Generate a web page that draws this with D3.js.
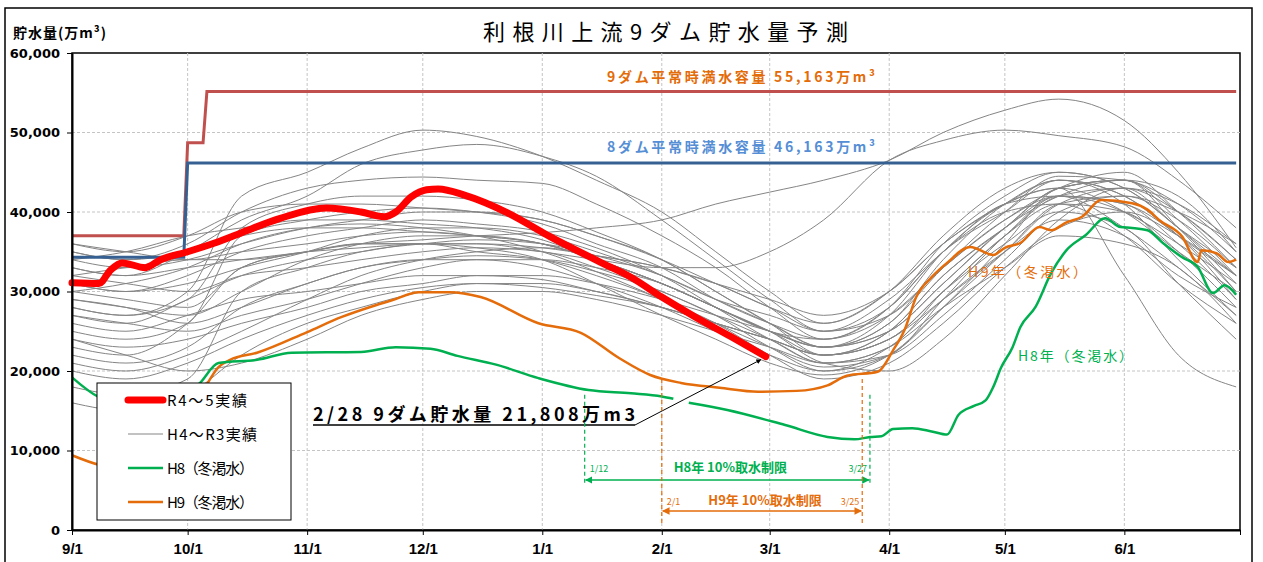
<!DOCTYPE html>
<html>
<head>
<meta charset="utf-8">
<script src="https://cdn.jsdelivr.net/npm/d3@7"></script>
<style>
body { margin: 0; background: #fff; }
svg { display: block; }
</style>
</head>
<body>
<svg id="chart" width="1263" height="562"></svg>
<script>
// dates are "month/day": Sep-Dec = 2022, Jan-Jun = 2023
var grayDates = ["9/1","9/15","10/1","10/15","11/1","11/15","12/1","12/15","1/1","1/15","2/1","2/15","3/1","3/15","4/1","4/15","5/1","5/15","6/1","6/15","6/30"];
// H4~R3 (万m3)
var grayValues = [
    [28000,27000,30000,42000,45000,48000,50300,49500,47000,44000,40000,35000,30000,26000,30000,36000,41000,43000,40000,35000,30000],
    [33000,32000,35000,39000,42000,46000,47800,48500,47000,44500,39000,34000,29000,25000,28000,35000,40000,44000,42000,37000,32000],
    [35000,34000,36000,40000,43000,44000,44400,44000,43600,41000,37000,33000,28000,24000,27000,33000,39000,42000,40000,36000,31000],
    [30000,29000,28000,33000,35000,36000,36500,37000,37400,38000,39000,41000,42500,44000,46500,50000,52800,54200,51500,45000,35500],
    [27000,26000,29000,32000,34000,35000,36000,36000,35000,34000,33000,33000,35000,39000,46500,49000,50300,49600,48200,44000,38000],
    [34000,33000,34000,36000,38000,39000,40000,40000,39000,37000,34000,30000,26000,22000,25000,32000,38000,43000,44000,40000,34000],
    [31000,30000,32000,35000,37000,38000,39000,38500,37500,35500,32000,28000,24000,21000,23000,30000,37000,42000,43000,38000,33000],
    [29000,28000,27000,30000,34000,36000,37000,37000,36000,34000,31000,28000,25000,23000,26000,33000,40000,44500,44000,41000,35000],
    [25000,24000,26000,37000,39000,40000,40500,40000,38500,36000,33000,29000,26000,24000,28000,36000,42000,45000,43000,38000,31000],
    [22000,21000,23000,28000,31000,33000,34000,34500,34000,32500,30000,27000,24000,21000,22000,27000,34000,40000,42000,39000,33000],
    [20000,19000,21000,24000,27000,29000,30500,31000,30500,29500,28000,26000,24000,22000,24000,29000,35000,41000,43000,41000,36000],
    [32000,31000,30000,32000,33000,34000,35000,35500,35000,33000,30000,27000,23000,20000,22000,28000,36000,43000,44000,38000,30000],
    [36000,35000,34000,35000,36000,37000,37500,37000,36000,34000,31000,28000,25000,22000,24000,30000,37000,41000,40000,35000,28000],
    [18000,17000,19000,30000,33000,35000,36000,36500,36000,34500,32000,29000,26000,23000,26000,34000,41000,44000,41000,34000,27000],
    [27000,26000,25000,27000,29000,31000,33000,34000,34000,33000,31000,28000,25000,21000,20000,24000,32000,39000,43000,40000,34000],
    [30000,31000,33000,36000,38000,38500,38000,37000,35000,32500,29000,26000,23000,20500,22000,29000,37000,42000,41000,36000,29000],
    [24000,23000,24000,26000,28000,30000,31000,32000,32000,31000,29000,27000,25000,23000,25000,31000,38000,42000,44000,42000,35000],
    [33000,32000,33000,34000,35000,36000,36000,35000,34000,32000,29000,26000,22000,19000,21000,26000,33000,38000,40000,37000,32000],
    [21000,20000,22000,25000,29000,32000,34000,35000,35500,34500,33000,31000,28000,26000,30000,37000,43000,45000,43000,38000,32000],
    [28000,27000,29000,38000,41000,42000,42000,41500,40000,37500,34000,30000,26000,23000,25000,31000,38000,43000,44000,39000,32000],
    [35000,34000,35000,37000,38000,38000,37500,37000,36000,34000,31000,28000,25000,23000,27000,35000,41000,43000,32000,22000,18000],
    [26000,25000,27000,29000,30000,31000,32000,32000,31500,30000,28000,26000,24000,22000,24000,30000,36000,40000,38000,31000,24000],
    [31000,30000,31000,33000,35000,37000,38000,38000,37000,35000,32000,29000,27000,25000,29000,35000,41000,42000,38000,33000,27000],
    [34000,35000,37000,38000,39000,39000,38500,38000,36500,34000,31000,28000,25000,24000,28000,35000,40000,41000,37000,31000,26000],
    [29000,28000,26000,28000,31000,33000,34000,34000,33000,31000,28000,25000,22000,20000,23000,29000,35000,39000,37000,32000,28000],
    [23000,22000,26000,33000,35000,36000,36000,35500,34000,31000,27000,24000,21000,19500,22000,28000,35000,41000,42000,40000,36000],
    [36000,35000,37000,40000,41000,41000,40500,40000,39000,37000,34000,31000,28000,25000,27000,33000,39000,43000,45000,40000,33000],
    [32000,33000,34000,34000,35000,35500,36000,36000,35500,34500,33000,31000,29000,27000,30000,36000,41000,44000,42000,37000,29000],
    [16000,15000,17000,22000,26000,28000,30000,31000,31000,30000,28000,26000,24000,22000,25000,32000,38000,42000,41000,37000,30000],
    [24000,22000,20000,21000,24000,27000,29000,30000,30000,29000,27000,25000,23000,21000,23000,28000,33000,37000,36000,33000,26000]
];

// R4~5 実績
var r45Dates = ["9/1","9/8","9/11","9/14","9/20","9/24","10/1","10/8","10/15","10/25","11/6","11/15","11/21","11/24","11/28","12/2","12/5","12/12","12/23","1/3","1/16","1/24","2/1","2/10","2/19","2/28"];
var r45Values = [31100,31000,32700,33600,33000,34000,35000,36100,37400,39200,40500,40000,39400,40000,41900,42800,42900,42100,39900,36900,33700,31800,29300,26700,24300,21808];

// H8 (冬渇水)  null = gap in the record
var h8Dates = ["9/1","9/8","9/20","10/4","10/9","10/19","10/28","11/15","11/24","12/3","12/10","12/20","12/31","1/13","1/24","2/1","2/4","2/6","2/8","2/18","3/5","3/16","3/23","3/27","3/30","4/2","4/7","4/12","4/16","4/19","4/23","4/26","4/28","4/30","5/3","5/5","5/9","5/13","5/17","5/22","5/27","5/31","6/3","6/7","6/11","6/16","6/20","6/24","6/27","6/30"];
var h8Values = [19200,16700,15300,18400,21000,21400,22300,22400,23000,22800,21900,20800,19100,17600,17200,16800,16500,null,16000,15100,13200,11700,11400,11700,11800,12700,12800,12400,12000,14500,15600,16300,18000,20400,23000,25500,28100,32300,35200,37100,39200,38100,38000,37700,36100,34300,33100,29800,30800,29600];

// H9 (冬渇水)
var h9Dates = ["9/1","9/8","9/18","9/27","10/5","10/9","10/12","10/19","11/1","11/10","11/19","11/23","11/30","12/8","12/16","12/31","1/11","1/21","1/29","2/6","2/16","2/26","3/8","3/16","3/21","3/29","4/2","4/5","4/8","4/12","4/16","4/22","4/28","5/1","5/5","5/10","5/13","5/17","5/21","5/26","6/3","6/7","6/10","6/16","6/20","6/21","6/25","6/28","6/30"];
var h9Values = [9400,8200,7600,10500,17500,20500,21400,22300,24900,26800,28300,28900,29900,29900,29300,26000,24800,21600,19500,18500,17900,17400,17500,18200,19400,19900,22600,25200,29300,31800,33600,35600,34600,35500,36100,38100,37700,38700,39400,41500,41100,40300,39000,36900,33700,35200,34800,33700,34000];

// 平常時満水容量
var cap9Dates = ["9/1","9/30","10/1","10/5","10/6","6/30"];
var cap9Values = [37000,37000,48700,48700,55163,55163];
var cap8Dates = ["9/1","9/30","10/1","6/30"];
var cap8Values = [34300,34300,46163,46163];

var yTicks = [0,10000,20000,30000,40000,50000,60000];
var xTickLabels = ["9/1","10/1","11/1","12/1","1/1","2/1","3/1","4/1","5/1","6/1"];

var legendLabels = ["R4～5実績","H4～R3実績","H8（冬渇水）","H9（冬渇水）"];
var h8LimitDates = ["1/12","3/27"];
var h9LimitDates = ["2/1","3/25"];

function toDate(s) {
    var p = s.split("/");
    var m = +p[0];
    return new Date(m >= 9 ? 2022 : 2023, m - 1, +p[1]);
}

function rows(dates, values) {
    return dates.map(function (d, i) {
        return { date: toDate(d), value: values[i] };
    });
}

var Chart = {
    left: 72,
    right: 1240,
    top: 53,
    bottom: 530,
    svg: null,
    x: null,
    y: null,
    jp: "'Noto Sans CJK JP', sans-serif",
    green: "#00b050",
    orange: "#e46c0a",

    init: function () {
        this.svg = d3.select("#chart");
        this.x = d3.scaleTime()
            .domain([new Date(2022, 8, 1), new Date(2023, 6, 1)])
            .range([this.left, this.right]);
        this.y = d3.scaleLinear().domain([0, 60000]).range([this.bottom, this.top]);

        this.defineMarkers()
            .drawFrame()
            .drawGrid()
            .drawSeries()
            .drawAxes()
            .addTexts()
            .addLegend()
            .addAnnotations();
    },

    defineMarkers: function () {
        var defs = this.svg.append("defs");
        [["arrGreen", this.green], ["arrOrange", this.orange], ["arrBlack", "#000"]].forEach(function (m) {
            defs.append("marker")
                .attr("id", m[0])
                .attr("viewBox", "0 0 10 10")
                .attr("refX", 9).attr("refY", 5)
                .attr("markerWidth", 5).attr("markerHeight", 5)
                .attr("orient", "auto-start-reverse")
                .append("path")
                .attr("d", "M0,0 L10,5 L0,10 z")
                .attr("fill", m[1]);
        });
        return this;
    },

    drawFrame: function () {
        this.svg.append("rect")
            .attr("x", 5).attr("y", 8)
            .attr("width", 1247).attr("height", 580)
            .attr("fill", "none").attr("stroke", "#000").attr("stroke-width", 1.5);
        this.svg.append("rect")
            .attr("x", this.left).attr("y", this.top)
            .attr("width", this.right - this.left).attr("height", this.bottom - this.top)
            .attr("fill", "none").attr("stroke", "#000").attr("stroke-width", 1.5);
        return this;
    },

    drawGrid: function () {
        var self = this;
        var g = this.svg.append("g").attr("stroke", "#c4c4c4").attr("stroke-dasharray", "3,2");
        g.selectAll("line.h")
            .data(yTicks.slice(1, -1))
            .enter().append("line")
            .attr("x1", this.left).attr("x2", this.right)
            .attr("y1", function (d) { return self.y(d); })
            .attr("y2", function (d) { return self.y(d); });
        g.selectAll("line.v")
            .data(xTickLabels.slice(1))
            .enter().append("line")
            .attr("x1", function (d) { return self.x(toDate(d)); })
            .attr("x2", function (d) { return self.x(toDate(d)); })
            .attr("y1", this.top).attr("y2", this.bottom);
        return this;
    },

    lineGen: function (curve) {
        var self = this;
        return d3.line()
            .defined(function (d) { return d.value != null; })
            .x(function (d) { return self.x(d.date); })
            .y(function (d) { return self.y(d.value); })
            .curve(curve);
    },

    drawSeries: function () {
        var smooth = this.lineGen(d3.curveMonotoneX);
        var straight = this.lineGen(d3.curveLinear);

        this.svg.append("g").selectAll("path")
            .data(grayValues)
            .enter().append("path")
            .attr("d", function (vals) { return smooth(rows(grayDates, vals)); })
            .attr("fill", "none")
            .attr("stroke", "#858585")
            .attr("stroke-width", 1);

        this.svg.append("path").attr("d", straight(rows(cap9Dates, cap9Values)))
            .attr("fill", "none").attr("stroke", "#c0504d").attr("stroke-width", 3);
        this.svg.append("path").attr("d", straight(rows(cap8Dates, cap8Values)))
            .attr("fill", "none").attr("stroke", "#376092").attr("stroke-width", 3);

        this.svg.append("path").attr("d", smooth(rows(h9Dates, h9Values)))
            .attr("fill", "none").attr("stroke", this.orange).attr("stroke-width", 2.5);
        this.svg.append("path").attr("d", smooth(rows(h8Dates, h8Values)))
            .attr("fill", "none").attr("stroke", this.green).attr("stroke-width", 2.5);

        this.svg.append("path").attr("d", smooth(rows(r45Dates, r45Values)))
            .attr("fill", "none").attr("stroke", "#ff0000")
            .attr("stroke-width", 7).attr("stroke-linecap", "round").attr("stroke-linejoin", "round");
        return this;
    },

    drawAxes: function () {
        var yAxis = d3.axisLeft(this.y)
            .tickValues(yTicks)
            .tickSize(5).tickSizeOuter(0).tickPadding(7)
            .tickFormat(d3.format(","));
        var gy = this.svg.append("g")
            .attr("transform", "translate(" + this.left + ",0)")
            .call(yAxis);
        gy.select(".domain").attr("stroke-width", 2);
        gy.selectAll("text")
            .attr("font-family", "'DejaVu Sans', sans-serif")
            .attr("font-weight", "bold").attr("font-size", 13).attr("fill", "#000");

        var xAxis = d3.axisBottom(this.x)
            .tickValues(xTickLabels.map(toDate).concat([new Date(2023, 6, 1)]))
            .tickSize(5).tickSizeOuter(0).tickPadding(8)
            .tickFormat(function (d, i) { return xTickLabels[i] || ""; });
        var gx = this.svg.append("g")
            .attr("transform", "translate(0," + this.bottom + ")")
            .call(xAxis);
        gx.select(".domain").attr("stroke-width", 2);
        gx.selectAll("text")
            .attr("font-family", "'Liberation Sans Narrow', 'Arial Narrow', sans-serif")
            .attr("font-stretch", "condensed")
            .attr("font-weight", "bold").attr("font-size", 15).attr("fill", "#000");
        return this;
    },

    addTexts: function () {
        var jp = this.jp;
        this.svg.append("text")
            .attr("x", 483).attr("y", 40)
            .attr("textLength", 365).attr("lengthAdjust", "spacing")
            .attr("font-family", jp).attr("font-size", 22)
            .text("利根川上流9ダム貯水量予測");

        this.svg.append("text")
            .attr("x", 13).attr("y", 38)
            .attr("font-family", jp).attr("font-size", 14).attr("font-weight", "bold")
            .attr("letter-spacing", 1)
            .text("貯水量(万m³)");

        this.svg.append("text")
            .attr("x", 607).attr("y", 82)
            .attr("textLength", 268).attr("lengthAdjust", "spacing")
            .attr("font-family", jp).attr("font-size", 14).attr("font-weight", "bold")
            .attr("fill", "#e36c09")
            .text("9ダム平常時満水容量 55,163万m³");
        this.svg.append("text")
            .attr("x", 607).attr("y", 152)
            .attr("textLength", 268).attr("lengthAdjust", "spacing")
            .attr("font-family", jp).attr("font-size", 14).attr("font-weight", "bold")
            .attr("fill", "#558ed5")
            .text("8ダム平常時満水容量 46,163万m³");

        this.svg.append("text")
            .attr("x", 968).attr("y", 277)
            .attr("textLength", 119).attr("lengthAdjust", "spacing")
            .attr("font-family", jp).attr("font-size", 14).attr("fill", this.orange)
            .text("H9年（冬渇水）");
        this.svg.append("text")
            .attr("x", 1018).attr("y", 361)
            .attr("textLength", 115).attr("lengthAdjust", "spacing")
            .attr("font-family", jp).attr("font-size", 14).attr("fill", this.green)
            .text("H8年（冬渇水）");
        return this;
    },

    addLegend: function () {
        var colors = ["#ff0000", "#858585", this.green, this.orange];
        var widths = [7, 1, 2.5, 2.5];
        var lengths = [80, 90, 87, 87];
        var g = this.svg.append("g");
        g.append("rect")
            .attr("x", 97).attr("y", 383).attr("width", 194).attr("height", 137)
            .attr("fill", "#fff").attr("stroke", "#000").attr("stroke-width", 1);
        var item = g.selectAll("g.item")
            .data(legendLabels)
            .enter().append("g")
            .attr("transform", function (d, i) { return "translate(0," + (400 + i * 34) + ")"; });
        item.append("line")
            .attr("x1", 128).attr("x2", 163)
            .attr("stroke", function (d, i) { return colors[i]; })
            .attr("stroke-width", function (d, i) { return widths[i]; })
            .attr("stroke-linecap", function (d, i) { return i === 0 ? "round" : "butt"; });
        item.append("text")
            .attr("x", 167).attr("y", 6)
            .attr("textLength", function (d, i) { return lengths[i]; })
            .attr("lengthAdjust", "spacing")
            .attr("font-family", this.jp).attr("font-size", 15)
            .text(function (d) { return d; });
        return this;
    },

    addAnnotations: function () {
        var self = this, jp = this.jp;
        var lastX = this.x(toDate(r45Dates[r45Dates.length - 1]));
        var lastY = this.y(r45Values[r45Values.length - 1]);

        // 2/28 label with leader arrow
        this.svg.append("text")
            .attr("x", 313).attr("y", 421)
            .attr("textLength", 322).attr("lengthAdjust", "spacing")
            .attr("font-family", jp).attr("font-size", 18).attr("font-weight", "bold")
            .text("2/28  9ダム貯水量  21,808万m3");
        this.svg.append("line")
            .attr("x1", 313).attr("x2", 635).attr("y1", 425).attr("y2", 425)
            .attr("stroke", "#000").attr("stroke-width", 1.5);
        this.svg.append("line")
            .attr("x1", 635).attr("y1", 425)
            .attr("x2", lastX - 5).attr("y2", lastY + 3)
            .attr("stroke", "#000").attr("stroke-width", 1)
            .attr("marker-end", "url(#arrBlack)");

        // 取水制限 periods
        var limits = [
            { dates: h8LimitDates, color: this.green, marker: "arrGreen", top: 17000, bottom: 5600, arrowY: 6300, textY: 7300, title: "H8年  10%取水制限" },
            { dates: h9LimitDates, color: this.orange, marker: "arrOrange", top: 19000, bottom: 600, arrowY: 2400, textY: 3200, title: "H9年  10%取水制限" }
        ];
        limits.forEach(function (L) {
            var x0 = self.x(toDate(L.dates[0])), x1 = self.x(toDate(L.dates[1]));
            [x0, x1].forEach(function (xx) {
                self.svg.append("line")
                    .attr("x1", xx).attr("x2", xx)
                    .attr("y1", self.y(L.top)).attr("y2", self.y(L.bottom))
                    .attr("stroke", L.color).attr("stroke-width", 1.2)
                    .attr("stroke-dasharray", "4,3");
            });
            self.svg.append("line")
                .attr("x1", x0 + 1).attr("x2", x1 - 1)
                .attr("y1", self.y(L.arrowY)).attr("y2", self.y(L.arrowY))
                .attr("stroke", L.color).attr("stroke-width", 1.5)
                .attr("marker-start", "url(#" + L.marker + ")")
                .attr("marker-end", "url(#" + L.marker + ")");
            self.svg.append("text")
                .attr("x", x0 + 5).attr("y", self.y(L.textY))
                .attr("font-family", jp).attr("font-size", 9).attr("fill", L.color)
                .text(L.dates[0]);
            self.svg.append("text")
                .attr("x", x1 - 3).attr("y", self.y(L.textY))
                .attr("text-anchor", "end")
                .attr("font-family", jp).attr("font-size", 9).attr("fill", L.color)
                .text(L.dates[1]);
            self.svg.append("text")
                .attr("x", (x0 + x1) / 2 + 3).attr("y", self.y(L.textY))
                .attr("text-anchor", "middle")
                .attr("font-family", jp).attr("font-size", 13).attr("font-weight", "bold")
                .attr("fill", L.color)
                .text(L.title);
        });
        return this;
    }
};

Chart.init();
</script>
</body>
</html>
